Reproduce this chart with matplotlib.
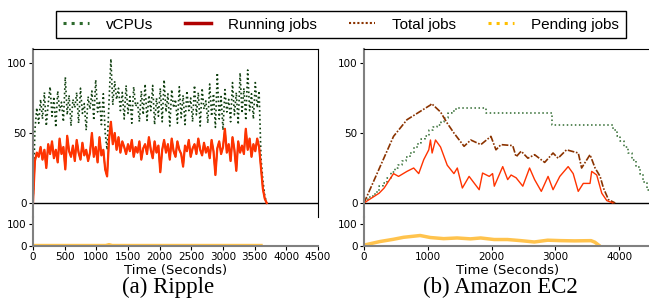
import matplotlib
matplotlib.use("Agg")
import matplotlib.pyplot as plt
from matplotlib.lines import Line2D

# Ripple (seconds, every 30 s)
ripple_t = list(range(0, 3720, 30))
ripple_vcpus = [0, 52, 68, 57, 74, 60, 79, 55, 71, 83,
                62, 76, 54, 80, 66, 72, 58, 90, 63, 77,
                55, 74, 68, 79, 57, 82, 64, 71, 52, 76,
                67, 80, 59, 88, 65, 73, 56, 78, 50, 38,
                72, 103, 70, 87, 74, 82, 66, 79, 60, 84,
                64, 76, 57, 83, 69, 72, 58, 80, 63, 85,
                59, 77, 66, 84, 56, 75, 62, 82, 58, 88,
                65, 78, 55, 81, 68, 74, 57, 83, 61, 77,
                56, 80, 66, 75, 58, 84, 63, 79, 55, 82,
                67, 73, 57, 85, 62, 78, 54, 93, 60, 76,
                52, 81, 65, 74, 58, 86, 63, 79, 56, 93,
                64, 82, 59, 95, 66, 78, 60, 86, 68, 80,
                32, 16, 5, 0]
ripple_running = [0, 30, 36, 33, 40, 31, 38, 25, 42, 35,
                  44, 32, 38, 29, 46, 35, 40, 24, 48, 37,
                  33, 41, 30, 45, 36, 31, 43, 34, 38, 30,
                  36, 50, 33, 40, 29, 47, 34, 38, 24, 19,
                  45, 58, 42, 50, 38, 47, 36, 44, 40, 35,
                  42, 37, 45, 33, 40, 36, 44, 31, 39, 42,
                  35, 47, 38, 32, 44, 36, 41, 22, 38, 45,
                  36, 42, 31, 46, 37, 33, 44, 38, 35, 26,
                  41, 37, 45, 33, 39, 42, 35, 46, 38, 34,
                  43, 36, 40, 32, 45, 37, 20, 39, 44, 35,
                  40, 53, 36, 42, 30, 47, 38, 23, 44, 36,
                  41, 35, 53, 38, 46, 33, 42, 37, 46, 40,
                  25, 10, 3, 0]
ripple_total = ripple_running
ripple_pend_t = [0, 1150, 1200, 1250, 3600]
ripple_pending = [2, 2, 6, 2, 2]

# Amazon EC2
ec2_total_t = [0, 463, 674, 884, 1042, 1060, 1200, 1305, 1410, 1569, 1674, 1832,
               1990, 2069, 2148, 2332, 2385, 2464, 2570, 2675, 2833, 2964, 3043,
               3175, 3360, 3412, 3544, 3623, 3702, 3754, 3833, 3939]
ec2_total = [0, 47.6, 59.5, 65.5, 70, 71, 65, 57, 50, 40.5, 45, 41.7,
             47.6, 38, 41.7, 41, 33, 37, 32, 34.5, 29, 35.7, 32,
             38, 35.7, 25, 34.5, 25, 19, 10.7, 2.4, 0]
ec2_run_t = [0, 80, 237, 316, 463, 542, 674, 779, 858, 937, 1016, 1042, 1068,
             1121, 1200, 1305, 1410, 1463, 1542, 1648, 1806, 1859, 1964, 2016,
             2043, 2175, 2253, 2306, 2385, 2490, 2596, 2675, 2780, 2886, 2964,
             3070, 3201, 3280, 3359, 3438, 3544, 3570, 3649, 3728, 3807, 3902]
ec2_running = [0, 2.4, 7, 10.7, 21, 19, 22.6, 25, 21, 31, 38, 45, 35.7,
               45, 40, 27, 21, 25, 10.7, 19, 9.5, 21.4, 19, 21,
               12, 26, 16.7, 20, 18, 12, 25, 16.7, 8.3, 19, 9.5,
               19, 26, 21, 8.3, 14, 14, 22.6, 20, 7, 1.7, 0]
ec2_vcpu_t = [0, 60, 120, 180, 240, 300, 360, 420, 480, 540, 600, 660, 720,
              780, 840, 900, 960, 1020, 1080, 1140, 1200, 1260, 1320, 1380,
              1440, 1920, 2940, 3900, 3960, 4020, 4080, 4140, 4200, 4260,
              4320, 4380, 4440, 4500]
ec2_vcpus = [2, 4, 5, 8, 12, 14, 18, 22, 25, 27, 30, 33, 36,
             40, 43, 46, 48, 52, 54, 56, 58, 61, 64, 66,
             68, 64, 56, 52, 48, 44, 40, 36, 31, 26,
             21, 15, 9, 2]
ec2_pend_t = [0, 250, 460, 620, 880, 1040, 1250, 1460, 1670, 1830, 2040, 2250,
              2460, 2670, 2880, 3090, 3300, 3560, 3620, 3680]
ec2_pending = [4, 20, 30, 39, 47, 38, 33, 36, 32, 36, 29, 29,
               24, 18, 26, 24, 23, 24, 17, 4]

W, H = 649, 298
fig = plt.figure(figsize=(W / 100, H / 100), dpi=100)

GREEN = '#0f3f0f'
RED = '#ff3300'
BROWN = '#8b3300'
YELLOW = '#ffc34d'


def make_axes(x0, w):
    top = fig.add_axes([x0 / W, 1 - 217 / H, w / W, (217 - 49) / H])
    bot = fig.add_axes([x0 / W, 1 - 246 / H, w / W, 29 / H])
    top.set_ylim(-10, 110)
    top.set_xlim(0, 4500)
    top.set_yticks([0, 50, 100])
    top.set_xticks([])
    top.spines['bottom'].set_visible(False)
    top.spines['left'].set_color('#808080')
    top.spines['left'].set_linewidth(1.5)
    top.axhline(0, color='k', lw=1)
    bot.set_ylim(0, 130)
    bot.set_xlim(0, 4500)
    bot.set_yticks([0, 100])
    bot.spines['top'].set_visible(False)
    bot.spines['right'].set_visible(False)
    for s in ('left', 'bottom'):
        bot.spines[s].set_color('#808080')
        bot.spines[s].set_linewidth(1.5)
    for a in (top, bot):
        a.tick_params(labelsize=7.5, length=3, pad=1.5)
        a.patch.set_alpha(0)
    bot.set_xlabel('Time (Seconds)', fontsize=9.5, labelpad=1)
    return top, bot


ax1, ax1b = make_axes(33, 285)
ax1.plot(ripple_t, ripple_vcpus, color=GREEN, ls=':', lw=1.2)
ax1.plot(ripple_t, ripple_total, color=BROWN, lw=1)
ax1.plot(ripple_t, ripple_running, color=RED, lw=1.6)
ax1b.plot(ripple_pend_t, ripple_pending, color=YELLOW, lw=2.5)
ax1b.set_xticks(range(0, 5000, 500))

ax2, ax2b = make_axes(364, 287)
ax2.step(ec2_vcpu_t, ec2_vcpus, where='post', color='#2f6a2f', ls=':', lw=1.1)
ax2.plot(ec2_total_t, ec2_total, color=BROWN, ls=(0, (4, 1, 1, 1)), lw=1.2)
ax2.plot(ec2_run_t, ec2_running, color=RED, lw=1)
ax2b.plot(ec2_pend_t, ec2_pending, color=YELLOW, lw=2.5)
ax2b.set_xticks(range(0, 5000, 1000))

fig.text(168 / W, 1 - 287 / H, '(a) Ripple', ha='center', va='center',
         fontsize=16.5, family='Liberation Serif')
fig.text(500 / W, 1 - 287 / H, '(b) Amazon EC2', ha='center', va='center',
         fontsize=16.5, family='Liberation Serif')

handles = [Line2D([], [], color='#2d6a2d', ls=':', lw=2.2),
           Line2D([], [], color='#b00000', lw=2.5),
           Line2D([], [], color=BROWN, ls=(0, (1, 1)), lw=1.5),
           Line2D([], [], color='#ffbf00', ls=':', lw=2.2)]
labels = ['vCPUs', 'Running jobs', 'Total jobs', 'Pending jobs']
leg = fig.legend(handles, labels, loc='upper center', ncol=4,
                 bbox_to_anchor=(341 / W, 1 - 3 / H), fancybox=False,
                 edgecolor='k', framealpha=1, handlelength=1.7,
                 handletextpad=1.1, columnspacing=2.1, borderpad=0.45,
                 prop={'family': 'Liberation Sans', 'size': 11})
leg.get_frame().set_linewidth(1)

fig.savefig('out.png', dpi=100)
